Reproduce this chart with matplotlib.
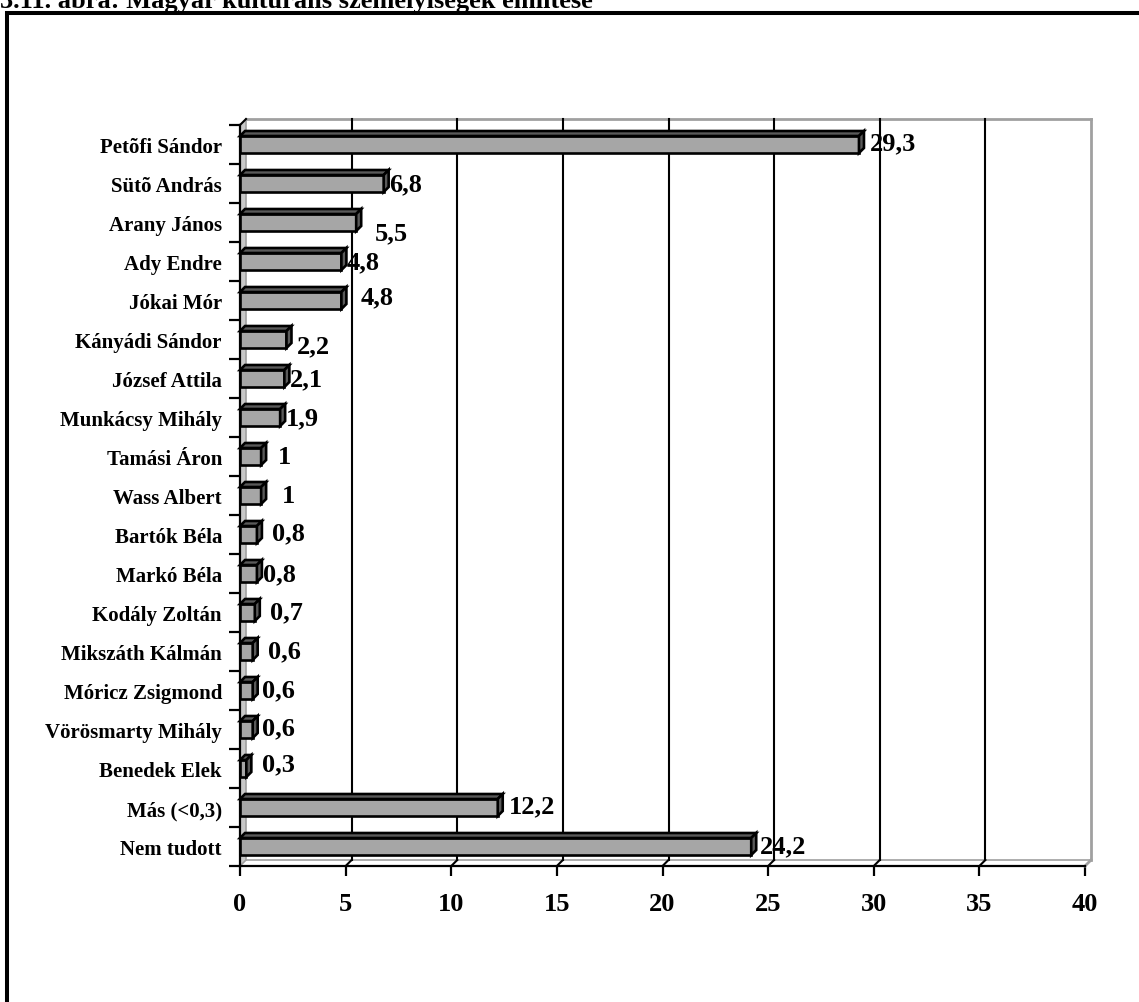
import numpy as np
import matplotlib
matplotlib.use("Agg")
import matplotlib.pyplot as plt
from matplotlib.patches import Polygon, Rectangle
from matplotlib.lines import Line2D

# ---------------- data ----------------
categories = ["Petõfi Sándor", "Sütõ András", "Arany János", "Ady Endre", "Jókai Mór",
              "Kányádi Sándor", "József Attila", "Munkácsy Mihály", "Tamási Áron",
              "Wass Albert", "Bartók Béla", "Markó Béla", "Kodály Zoltán",
              "Mikszáth Kálmán", "Móricz Zsigmond", "Vörösmarty Mihály", "Benedek Elek",
              "Más (<0,3)", "Nem tudott"]
values = [29.3, 6.8, 5.5, 4.8, 4.8, 2.2, 2.1, 1.9, 1, 1, 0.8, 0.8, 0.7, 0.6, 0.6, 0.6, 0.3,
          12.2, 24.2]
value_labels = ["29,3", "6,8", "5,5", "4,8", "4,8", "2,2", "2,1", "1,9", "1", "1", "0,8",
                "0,8", "0,7", "0,6", "0,6", "0,6", "0,3", "12,2", "24,2"]
x_ticks = [0, 5, 10, 15, 20, 25, 30, 35, 40]
title = "3.11. ábra: Magyar kulturális személyiségek említése"

# label nudges in pixels (style only)
label_dx = [6, 0, 14, 0, 14, 5, 1, 1, 12, 16, 10, 1, 10, 10, 4, 4, 11, 6, 4]
label_dy = [-2, 0, 10, 0, -4, 6, 0, 0, 0, 0, -2, 0, -1, -1, -1, -2, -5, -2, -1]

# ---------------- style ----------------
plt.rcParams["font.family"] = ["Liberation Serif", "DejaVu Serif"]
plt.rcParams["font.weight"] = "bold"

W, H = 1139, 1003
fig = plt.figure(figsize=(W / 100, H / 100), dpi=100)
fig.patch.set_facecolor("white")

X0, X40, YT, YB = 240, 1085, 126, 867
N = len(categories)
ax = fig.add_axes([X0 / W, 1 - YB / H, (X40 - X0) / W, (YB - YT) / H])
ax.set_xlim(0, 40)
ax.set_ylim(N - 0.5, -0.5)
ax.patch.set_visible(False)

px_x = (X40 - X0) / 40.0
px_y = (YB - YT) / N
DX, DY = 6 / px_x, -6 / px_y      # wall depth
BDX, BDY = 5 / px_x, -5 / px_y    # bar depth
bh = 17 / px_y                    # bar face height

wall_gray = "#a0a0a0"
top, bot = -0.5, N - 0.5
xmax = x_ticks[-1]

# back wall
ax.add_patch(Polygon([(DX, top + DY), (xmax + DX, top + DY), (xmax + DX, bot + DY), (DX, bot + DY)],
                     closed=True, facecolor="white", edgecolor="none", zorder=0, clip_on=False))
# left side wall
ax.add_patch(Polygon([(0, top), (DX, top + DY), (DX, bot + DY), (0, bot)],
                     closed=True, facecolor="#c8c8c8", edgecolor="none", zorder=1, clip_on=False))


def seg(x1, y1, x2, y2, c, lw, z):
    ax.add_line(Line2D([x1, x2], [y1, y2], color=c, lw=lw, zorder=z, clip_on=False,
                       solid_capstyle="projecting"))


# wall outlines (gray)
seg(DX, top + DY, xmax + DX, top + DY, wall_gray, 2.0, 2)
seg(xmax + DX, top + DY, xmax + DX, bot + DY, wall_gray, 2.0, 2)
seg(xmax + DX, bot + DY, xmax, bot, wall_gray, 2.0, 2)
seg(DX, top + DY, DX, bot + DY, wall_gray, 1.2, 2)
seg(DX, bot + DY, xmax + DX, bot + DY, wall_gray, 1.2, 2)
seg(DX, bot + DY, 0, bot, wall_gray, 1.2, 2)
seg(0, top, DX, top + DY, "black", 1.5, 3)

# gridlines on back wall + floor
for t in x_ticks[1:-1]:
    seg(t + DX, top + DY, t + DX, bot + DY, "black", 1.5, 2)
    seg(t + DX, bot + DY, t, bot, "black", 1.5, 2)

# bars
y = np.arange(N)
front = "#a6a6a6"
dark = "#5a5a5a"
ax.barh(y, values, height=bh, color=front, edgecolor="black", linewidth=1.9, zorder=5)
for yi, v in zip(y, values):
    y0 = yi - bh / 2
    y1 = yi + bh / 2
    ax.add_patch(Polygon([(0, y0), (v, y0), (v + BDX, y0 + BDY), (BDX, y0 + BDY)], closed=True,
                         facecolor=dark, edgecolor="black", linewidth=1.9, zorder=6,
                         clip_on=False, joinstyle="miter"))
    ax.add_patch(Polygon([(v, y0), (v + BDX, y0 + BDY), (v + BDX, y1 + BDY), (v, y1)], closed=True,
                         facecolor=dark, edgecolor="black", linewidth=1.9, zorder=6,
                         clip_on=False, joinstyle="miter"))

# value labels
for yi, v, lab, dx, dy in zip(y, values, value_labels, label_dx, label_dy):
    ax.annotate(lab, xy=(v + BDX, yi), xytext=(dx, -dy), textcoords="offset pixels",
                ha="left", va="center", fontsize=19, fontweight="bold", zorder=8,
                annotation_clip=False)

# axes / ticks
for s in ["top", "right"]:
    ax.spines[s].set_visible(False)
for s in ["left", "bottom"]:
    ax.spines[s].set_color("black")
    ax.spines[s].set_linewidth(1.6)
    ax.spines[s].set_zorder(4)

ax.set_xticks(x_ticks)
ax.set_xticklabels([str(t) for t in x_ticks])
ax.tick_params(axis="x", direction="out", length=7.5, width=1.6, pad=11,
               labelsize=19, colors="black")

ax.set_yticks(np.arange(N + 1) - 0.5)
ax.set_yticklabels([])
ax.tick_params(axis="y", which="major", direction="out", length=8, width=1.6)
ax.set_yticks(y, minor=True)
ax.set_yticklabels(categories, minor=True)
ax.tick_params(axis="y", which="minor", length=0, pad=13, labelsize=15)
for lab in ax.get_xticklabels() + ax.get_yticklabels(minor=True):
    lab.set_fontweight("bold")

# outer frame (cut off on right / bottom)
fig.add_artist(Rectangle((7 / W, -0.2), 1.5, 1.2 - 14 / H, transform=fig.transFigure,
                         fill=False, edgecolor="black", linewidth=2.9))

# title (cut off at top, as in the reference)
fig.text(0 / W, 1 - 8 / H, title, ha="left", va="baseline", fontsize=19, fontweight="bold")

fig.savefig("out.png", dpi=100, facecolor="white")
